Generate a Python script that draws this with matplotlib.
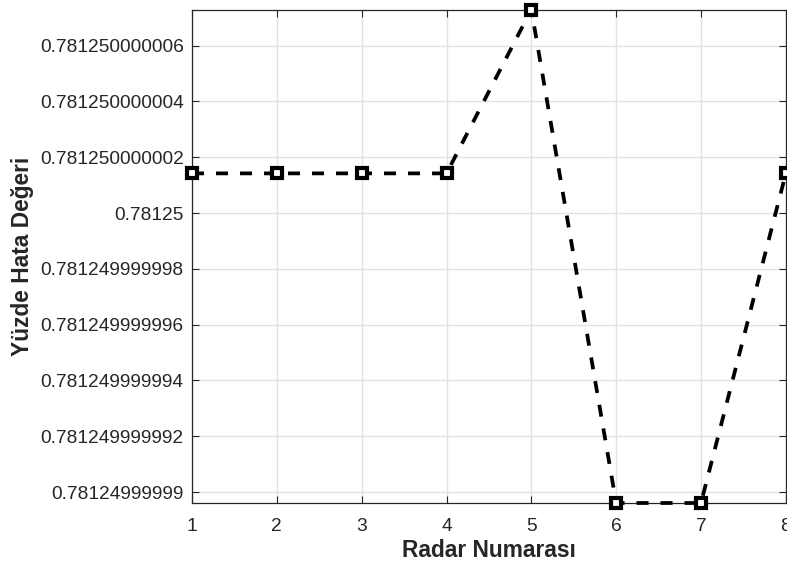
import matplotlib
matplotlib.use("Agg")
import matplotlib.pyplot as plt
from matplotlib.ticker import FixedLocator, FixedFormatter

plt.rcParams['font.family'] = ['Liberation Sans', 'DejaVu Sans']

# Radar numbers and percentage error values
radar_no = [1, 2, 3, 4, 5, 6, 7, 8]
error_pct = [0.78125 + 1.42e-12, 0.78125 + 1.42e-12, 0.78125 + 1.42e-12,
             0.78125 + 1.42e-12, 0.78125 + 7.29e-12, 0.78125 - 10.39e-12,
             0.78125 - 10.39e-12, 0.78125 + 1.42e-12]

x_ticks = [1, 2, 3, 4, 5, 6, 7, 8]
y_ticks = [0.78124999999, 0.781249999992, 0.781249999994, 0.781249999996,
           0.781249999998, 0.78125, 0.781250000002, 0.781250000004,
           0.781250000006]
y_tick_labels = ['0.78124999999', '0.781249999992', '0.781249999994',
                 '0.781249999996', '0.781249999998', '0.78125',
                 '0.781250000002', '0.781250000004', '0.781250000006']

axis_color = '#262626'

fig = plt.figure(figsize=(7.87, 5.62), dpi=100)
ax = fig.add_axes([0.244, 0.105, 0.7545, 0.878])

ax.plot(radar_no, error_pct, color='black', linewidth=2.7,
        linestyle=(0, (3.2, 3.2)), marker='s', markersize=6.5,
        markerfacecolor='white', markeredgecolor='black',
        markeredgewidth=3.0, clip_on=False, zorder=3)

ax.set_xlim(min(radar_no), max(radar_no))
ax.set_ylim(min(error_pct), max(error_pct))

ax.xaxis.set_major_locator(FixedLocator(x_ticks))
ax.set_xticklabels([str(v) for v in x_ticks])
ax.yaxis.set_major_locator(FixedLocator(y_ticks))
ax.yaxis.set_major_formatter(FixedFormatter(y_tick_labels))

ax.grid(True, color='#e2e2e2', linewidth=1.0)
ax.set_axisbelow(True)

ax.tick_params(axis='both', direction='in', length=5, width=0.8,
               colors=axis_color, labelsize=13.8, top=True, right=True,
               labelcolor=axis_color)
ax.tick_params(axis='x', pad=10.5)
ax.tick_params(axis='y', pad=6)
for s in ax.spines.values():
    s.set_color(axis_color)
    s.set_linewidth(0.9)

ax.set_xlabel('Radar Numarası', fontsize=16.4, fontweight='bold',
              color=axis_color, labelpad=3)
ax.set_ylabel('Yüzde Hata Değeri', fontsize=16.4, fontweight='bold',
              color=axis_color, labelpad=4)

fig.savefig('out.png', dpi=100)
